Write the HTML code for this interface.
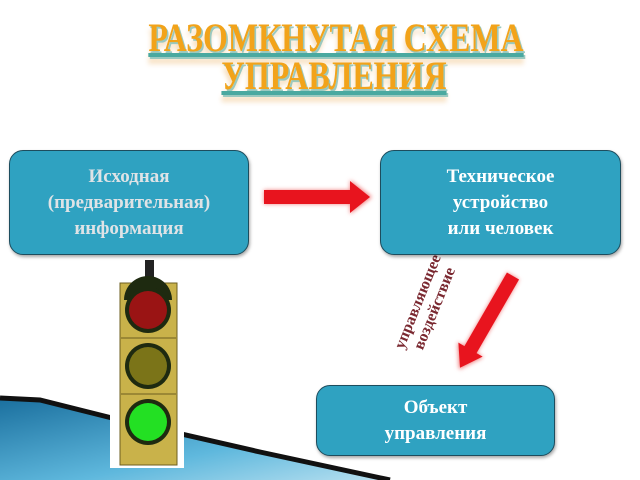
<!DOCTYPE html>
<html><head><meta charset="utf-8"><style>
body{margin:0;width:640px;height:480px;background:#fff;position:relative;overflow:hidden;font-family:"Liberation Serif","Noto Serif CJK SC",serif}
.box{position:absolute;background:#2fa2c1;border:1.5px solid #1d4d5e;border-radius:14px;color:#fff;font-weight:bold;font-size:19px;line-height:26px;text-align:center;box-sizing:border-box;box-shadow:1px 2px 3px rgba(0,0,0,.35)}
.t{position:absolute;left:0;width:640px;text-align:center;font-weight:bold;color:#f2a31a;font-size:40px;line-height:40px;letter-spacing:0px;text-decoration:underline;text-decoration-color:#4aa9a0;text-shadow:2px 2px 0 #9ac9c0,0 6px 6px #f4d3a8;transform:scaleX(0.8)}
</style></head><body>
<div class="t" style="top:18px;left:16px">РАЗОМКНУТАЯ СХЕМА</div>
<div class="t" style="top:56px;left:14px">УПРАВЛЕНИЯ</div>
<svg width="640" height="480" style="position:absolute;left:0;top:0">
<defs><filter id="g"><feGaussianBlur stdDeviation="2"/></filter>
<linearGradient id="sw" x1="0" y1="0" x2="1" y2="1"><stop offset="0" stop-color="#1a6f9e"/><stop offset="0.6" stop-color="#5fb8dd"/><stop offset="1" stop-color="#b8e0f0"/></linearGradient></defs>
<polygon points="0,398 40,400 120,420 260,452 390,480 0,480" fill="url(#sw)"/>
<polyline points="0,398 40,400 120,420 260,452 390,480" fill="none" stroke="#111" stroke-width="5"/>
<rect x="110" y="260" width="74" height="208" fill="#fff"/>
<rect x="145" y="260" width="9" height="22" fill="#222"/>
<rect x="120" y="283" width="57" height="182" fill="#c9b24a" stroke="#6d5f20"/>
<path d="M124,300 a24,24 0 0 1 48,0 z" fill="#1e2a10"/>
<circle cx="148" cy="310" r="23" fill="#1e2a10"/><circle cx="148" cy="310" r="19" fill="#9a1414"/>
<circle cx="148" cy="366" r="23" fill="#1e2a10"/><circle cx="148" cy="366" r="19" fill="#7b7418"/>
<circle cx="148" cy="422" r="23" fill="#1e2a10"/><circle cx="148" cy="422" r="19" fill="#23e023"/>
<line x1="121" y1="338" x2="176" y2="338" stroke="#6d5f20"/><line x1="121" y1="394" x2="176" y2="394" stroke="#6d5f20"/>
<polygon points="264,190 350,190 350,180 372,197 350,214 350,204 264,204" fill="#f08080" filter="url(#g)"/>
<polygon points="264,190 350,190 350,181 370,197 350,213 350,204 264,204" fill="#e8141e"/>
<g transform="translate(513,276) rotate(120)">
<polygon points="0,-7 85,-7 85,-15 108,0 85,15 85,7 0,7" fill="#f08080" filter="url(#g)"/>
<polygon points="0,-7 85,-7 85,-14 106,0 85,14 85,7 0,7" fill="#e8141e"/>
</g>
<g transform="translate(426,305) rotate(-68)" font-family="Liberation Serif" font-weight="bold" font-size="16" fill="#7a2830" text-anchor="middle">
<text x="0" y="-4">управляющее</text><text x="0" y="14">воздействие</text></g>
</svg>
<div class="box" style="left:9px;top:150px;width:240px;height:105px;padding-top:13px;color:#dfe3e6">Исходная<br>(предварительная)<br>информация</div>
<div class="box" style="left:380px;top:150px;width:241px;height:105px;padding-top:13px">Техническое<br>устройство<br>или человек</div>
<div class="box" style="left:316px;top:385px;width:239px;height:71px;padding-top:9px">Объект<br>управления</div>
</body></html>
